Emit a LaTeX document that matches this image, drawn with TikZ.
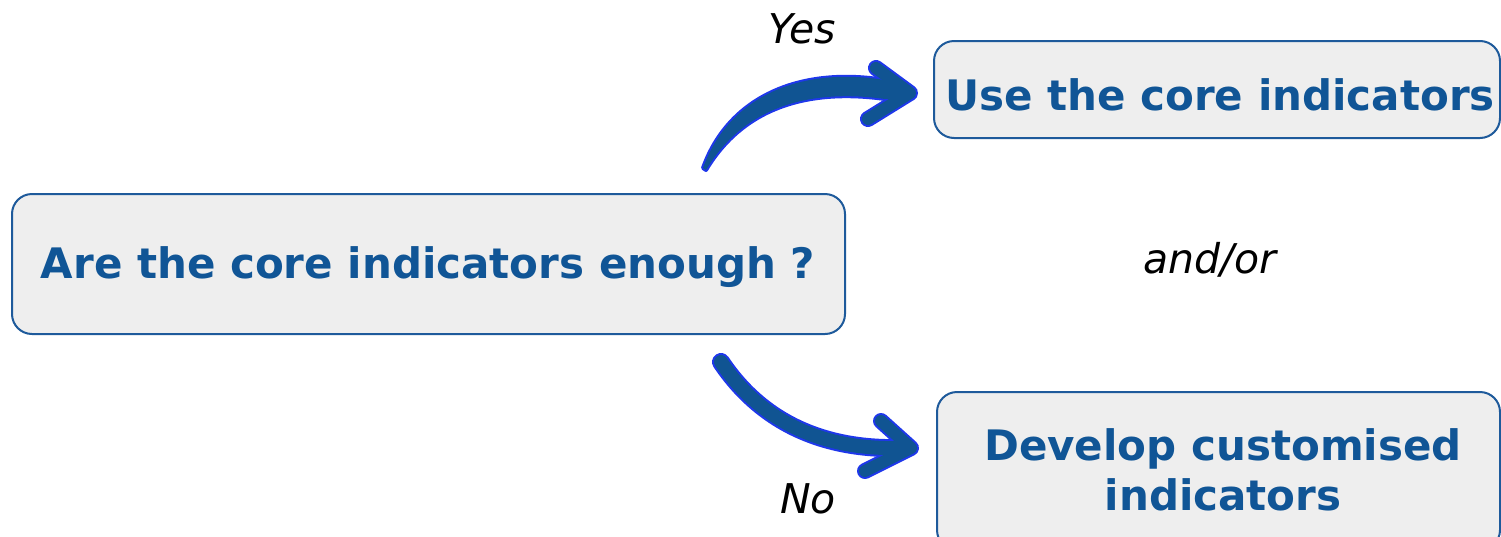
\documentclass[tikz,border=0pt]{standalone}
\usepackage{fontspec}
\setmainfont{DejaVu Sans}
\definecolor{boxline}{RGB}{30,90,155}
\definecolor{boxfill}{RGB}{238,238,238}
\definecolor{boxtext}{RGB}{16,85,150}
\definecolor{arrowbody}{RGB}{16,84,146}
\definecolor{arrowrim}{RGB}{30,55,235}

\begin{document}
\begin{tikzpicture}[x=1pt,y=-1pt,
  panel/.style={draw=boxline, fill=boxfill, line width=2pt, rounded corners=20pt, inner sep=0pt},
  paneltext/.style={font=\fontsize{42}{50}\selectfont\bfseries, text=boxtext, anchor=base, inner sep=0pt},
  answer/.style={font=\fontsize{41}{49}\selectfont\itshape, text=black, anchor=base, inner sep=0pt},
  rim/.style={draw=arrowrim, line cap=round, line join=round},
  body/.style={draw=arrowbody, line cap=round, line join=round}]

\useasboundingbox (0,0) rectangle (1501,536);
\clip (0,0) rectangle (1501,536);

% end points of the two curved arrows
\coordinate (ytail) at (703,168);
\coordinate (ytip)  at (910,93);
\coordinate (ntail) at (721,362);
\coordinate (ntip)  at (911,448);

% arrow outlines (bright rim)
\filldraw[rim, fill=arrowrim, line width=4pt]
  (ytail) .. controls (728,98) and (798,66) .. (885,80) -- (902,87) -- (902,98)
  -- (885,99) .. controls (820,90) and (748,100) .. (706,170) -- cycle;
\draw[rim, line width=16pt] (876,68) -- (ytip) -- (868,119);
\draw[rim, line width=18pt] (ntail) .. controls (760,420) and (820,450) .. (900,448);
\draw[rim, line width=16pt] (881,421) -- (ntip) -- (865,471);

% arrow bodies
\fill[arrowbody]
  (ytail) .. controls (728,98) and (798,66) .. (885,80) -- (902,87) -- (902,98)
  -- (885,99) .. controls (820,90) and (748,100) .. (706,170) -- cycle;
\draw[body, line width=12pt] (876,68) -- (ytip) -- (868,119);
\draw[body, line width=14pt] (ntail) .. controls (760,420) and (820,450) .. (900,448);
\draw[body, line width=12pt] (881,421) -- (ntip) -- (865,471);

% boxes
\node[panel, minimum width=833pt, minimum height=140pt] (q) at (428.5,264) {};
\node[panel, minimum width=566pt, minimum height=97pt] (use) at (1217,89.5) {};
\node[panel, minimum width=563pt, minimum height=158pt] (dev) at (1218.5,471) {};

% box texts
\node[paneltext] (qtext) at (428,278) {Are the core indicators enough ?};
\node[paneltext] (usetext) at (1220,110) {Use the core indicators};
\node[paneltext] (devtextA) at (1223,460) {Develop customised};
\node[paneltext] (devtextB) at (1223,510) {indicators};

% answers
\node[answer] (yes) at (802,43) {Yes};
\node[answer] (no) at (808,513) {No};
\node[answer] (andor) at (1210,273) {and/or};
\end{tikzpicture}
\end{document}
